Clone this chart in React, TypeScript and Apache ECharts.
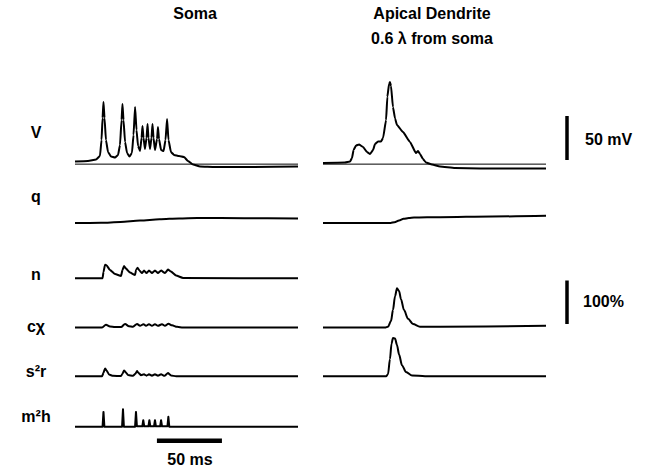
import React, { useEffect, useRef } from "react";
import * as echarts from "echarts";

// ---------- texts ----------
const TITLE_SOMA = "Soma";
const TITLE_DEND_1 = "Apical Dendrite";
const TITLE_DEND_2 = "0.6 λ from soma";
const ROW_LABELS = ["V", "q", "n", "cχ", "s²r", "m²h"];
const SCALE_LABEL_TIME = "50 ms";
const SCALE_LABEL_VOLT = "50 mV";
const SCALE_LABEL_PCT = "100%";

// ---------- data (time in ms, V in mV, gating variables in %) ----------
const TIME_MAX = 171.5;
const V_REST_LINE = -68;
const SCALE_TIME = [63, 113]; // 50 ms
const SCALE_VOLT = [-63.3, -13.3]; // 50 mV
const SCALE_PCT = [8, 108]; // 100 %

const SOMA_V: [number, number][] = [
  [0, -65], [10, -64.4], [16.2, -62.7], [19.2, -58.8], [20.4, -40.6], [21.2, -15.6], [21.9, 2.6],
  [22.7, -15.6], [23.8, -40.6], [25.4, -54.2], [27.7, -59.3], [30.8, -60.5], [33.1, -57.6],
  [34.6, -46.3], [35.8, -17.8], [36.5, 0.3], [37.3, -17.8], [38.5, -42.8], [40, -55.3],
  [41.9, -59.3], [43.8, -55.3], [45, -34.9], [46.2, -3.1], [47.3, -29.2], [48.5, -47.4],
  [50, -53.1], [51.2, -38.3], [51.9, -24.7], [52.7, -38.3], [53.8, -50.8], [55, -38.3],
  [55.8, -22.4], [56.5, -38.3], [57.7, -50.8], [58.8, -38.3], [59.6, -22.4], [60.4, -38.3],
  [61.5, -51.9], [63.1, -39.4], [63.8, -25.8], [64.6, -39.4], [66.2, -51.9], [68.1, -53.1],
  [69.6, -40.6], [70.8, -16.7], [71.9, -40.6], [73.8, -54.2], [76.2, -57.6], [80, -58.8],
  [83.8, -59.9], [86.9, -64.4], [90.8, -68.4], [96.2, -70.7], [107.7, -71.3], [134.6, -71.3],
  [171.5, -70.7],
];

const DEND_V: [number, number][] = [
  [0, -66.7], [16.9, -66.1], [20.8, -65], [22.3, -61], [23.5, -51.9], [25.4, -46.8], [27.7, -45.7],
  [30.8, -48.5], [33.8, -54.2], [36.2, -56.5], [38.5, -51.9], [40, -45.1], [42.3, -42.3],
  [44.6, -42.3], [46.2, -38.3], [48.5, -17.8], [49.5, 8.6], [50.8, 23.1], [51.5, 25.3],
  [52.3, 20.8], [53.8, -3.1], [55.4, -16], [56.9, -23.5], [61.5, -31.5], [66.9, -42.8],
  [71.5, -55.3], [73.1, -53.1], [74.6, -56.5], [76.9, -62.2], [79.2, -66.1], [83.8, -68.4],
  [90, -70.7], [101.5, -72.4], [120.8, -72.9], [171.5, -72.9],
];

const SOMA_Q: [number, number][] = [
  [0, 0], [20, 0.3], [35, 2.5], [50, 5.5], [65, 8.5], [80, 10.5], [94, 11.4], [130, 11.2], [171.5, 10.5],
];

const DEND_Q: [number, number][] = [
  [0, 0], [52, 0], [55, 2], [58.5, 6], [62, 9.5], [66, 11.5], [70, 12.5], [90, 13.5], [130, 15], [171.5, 16.5],
];

const SOMA_N: [number, number][] = [
  [0, 0], [21.2, 0], [21.9, 14.3], [23.1, 31.4], [24.2, 30.2], [26.9, 18.9], [30.8, 9.8], [35.4, 5.2],
  [36.5, 18.9], [37.7, 28], [39.2, 22.3], [42.3, 13.2], [46.2, 7.5], [46.9, 18.9], [48.1, 24.5],
  [49.6, 17.7], [51.5, 12], [53.1, 17.7], [55, 12], [56.9, 17.7], [59.2, 12], [61.5, 17.7],
  [63.8, 12], [66.2, 17.7], [69.2, 12], [71.5, 20], [73.8, 15.5], [77.7, 6.4], [83.1, 0.7], [171.5, 0],
];

const SOMA_CX: [number, number][] = [
  [0, 0], [20.8, 0], [23.8, 6.5], [26.9, 2.5], [30.8, 1], [35.4, 1], [38.5, 8], [41.5, 3], [44.6, 2],
  [47.7, 8], [50, 4], [52.7, 7.5], [54.6, 4], [56.9, 7.5], [59.2, 4], [61.5, 7.5], [63.8, 4],
  [66.9, 7.5], [69.2, 4], [71.9, 8.5], [74.6, 5], [78.5, 1.5], [83.1, 0], [171.5, 0],
];

const SOMA_S2R: [number, number][] = [
  [0, 0], [20.8, 0], [21.9, 8], [23.1, 18], [24.2, 14], [26.2, 4], [29.2, 1], [35.4, 0.5], [36.5, 6],
  [37.7, 13.6], [38.8, 10], [40.8, 3], [44.6, 1], [46.5, 6], [47.7, 12], [48.8, 8], [50.8, 2.5],
  [53.1, 4.5], [55, 1.5], [56.9, 4.5], [59.2, 1.5], [61.5, 4.5], [63.8, 1.5], [66.2, 4.5],
  [68.8, 1], [71.5, 7.5], [73.8, 2], [77.7, 0], [171.5, 0],
];

const SOMA_M2H: [number, number][] = [
  [0, 0], [21.2, 0], [21.9, 34], [22.6, 0], [36.2, 0], [36.9, 40], [37.6, 0], [46.2, 0], [46.9, 34],
  [47.6, 1], [51.8, 1], [52.5, 15], [53.2, 1], [56.5, 1], [57.2, 15], [57.9, 1], [60.8, 1],
  [61.5, 15], [62.2, 1], [65.5, 1], [66.2, 15], [66.9, 1], [71.1, 1], [71.8, 22.7], [72.5, 0],
  [171.5, 0],
];

const DEND_CX: [number, number][] = [
  [0, 0], [47.7, 0], [50, 2], [52.3, 15], [53.8, 40], [55.4, 72], [56.9, 90], [58.5, 84], [60, 65],
  [62.3, 40], [65.4, 20], [69.2, 8], [74.6, 2], [90, 1.5], [171.5, 4],
];

const DEND_S2R: [number, number][] = [
  [0, 0], [48.5, 0], [50, 5], [51.5, 40], [52.7, 75], [53.8, 88], [55.4, 87], [56.9, 72], [58.5, 50],
  [60.8, 25], [63.8, 10], [68.5, 2], [78.5, 0], [171.5, 0],
];

// ---------- layout ----------
const W = 656;
const H = 469;
const LEFT_X = 75;
const RIGHT_X = 323;
const PANEL_W = 223;
const BAR_X = 560;
const BAR_W = 14;
const PX_MV = 0.88;
const PX_PCT = 0.435;
const FONT = '"Liberation Sans", Arial, sans-serif';

type Row = { anchorVal: number; anchorY: number; min: number; max: number; px: number };
const ROW_V: Row = { anchorVal: -65, anchorY: 161.5, min: -85, max: 30, px: PX_MV };
const ROW_Q: Row = { anchorVal: 0, anchorY: 223, min: -10, max: 30, px: PX_PCT };
const ROW_N: Row = { anchorVal: 0, anchorY: 278.3, min: -10, max: 50, px: PX_PCT };
const ROW_CX: Row = { anchorVal: 0, anchorY: 327.5, min: -10, max: 115, px: PX_PCT };
const ROW_S2R: Row = { anchorVal: 0, anchorY: 376.3, min: -10, max: 110, px: PX_PCT };
const ROW_M2H: Row = { anchorVal: 0, anchorY: 426.7, min: -10, max: 60, px: PX_PCT };

function buildOption() {
  const grids: any[] = [];
  const xAxes: any[] = [];
  const yAxes: any[] = [];
  const series: any[] = [];

  const addGrid = (left: number, width: number, row: Row, xmin: number, xmax: number) => {
    const idx = grids.length;
    grids.push({
      left,
      width,
      top: row.anchorY - (row.max - row.anchorVal) * row.px,
      height: (row.max - row.min) * row.px,
      containLabel: false,
    });
    xAxes.push({ gridIndex: idx, type: "value", min: xmin, max: xmax, show: false });
    yAxes.push({ gridIndex: idx, type: "value", min: row.min, max: row.max, show: false });
    return idx;
  };

  const addLine = (idx: number, data: [number, number][], width: number, smooth: number | boolean) => {
    series.push({
      type: "line",
      xAxisIndex: idx,
      yAxisIndex: idx,
      data,
      showSymbol: false,
      symbol: "none",
      smooth,
      smoothMonotone: "x",
      clip: false,
      lineStyle: { color: "#000", width, cap: "butt", join: "round" },
      silent: true,
    });
  };

  const restLine: [number, number][] = [
    [0, V_REST_LINE],
    [TIME_MAX, V_REST_LINE],
  ];

  // Soma column
  let g = addGrid(LEFT_X, PANEL_W, ROW_V, 0, TIME_MAX);
  addLine(g, restLine, 1, false);
  addLine(g, SOMA_V, 2, 0.15);
  g = addGrid(LEFT_X, PANEL_W, ROW_Q, 0, TIME_MAX);
  addLine(g, SOMA_Q, 2, 0.3);
  g = addGrid(LEFT_X, PANEL_W, ROW_N, 0, TIME_MAX);
  addLine(g, SOMA_N, 2, 0.15);
  g = addGrid(LEFT_X, PANEL_W, ROW_CX, 0, TIME_MAX);
  addLine(g, SOMA_CX, 2, 0.3);
  g = addGrid(LEFT_X, PANEL_W, ROW_S2R, 0, TIME_MAX);
  addLine(g, SOMA_S2R, 2, 0.15);
  g = addGrid(LEFT_X, PANEL_W, ROW_M2H, 0, TIME_MAX);
  addLine(g, SOMA_M2H, 2, false);

  // Dendrite column
  g = addGrid(RIGHT_X, PANEL_W, ROW_V, 0, TIME_MAX);
  addLine(g, restLine, 1, false);
  addLine(g, DEND_V, 2, 0.15);
  g = addGrid(RIGHT_X, PANEL_W, ROW_Q, 0, TIME_MAX);
  addLine(g, DEND_Q, 2, 0.3);
  g = addGrid(RIGHT_X, PANEL_W, ROW_CX, 0, TIME_MAX);
  addLine(g, DEND_CX, 2, 0.3);
  g = addGrid(RIGHT_X, PANEL_W, ROW_S2R, 0, TIME_MAX);
  addLine(g, DEND_S2R, 2, 0.3);

  // Scale bars
  g = addGrid(BAR_X, BAR_W, ROW_V, -1, 1);
  addLine(g, [[0, SCALE_VOLT[0]], [0, SCALE_VOLT[1]]], 3.5, false);
  g = addGrid(BAR_X, BAR_W, ROW_CX, -1, 1);
  addLine(g, [[0, SCALE_PCT[0]], [0, SCALE_PCT[1]]], 3.5, false);
  g = addGrid(LEFT_X, PANEL_W, { anchorVal: 0, anchorY: 440.7, min: -1, max: 1, px: 5 }, 0, TIME_MAX);
  addLine(g, [[SCALE_TIME[0], 0], [SCALE_TIME[1], 0]], 4.5, false);

  const txt = (text: string, x: number, y: number, size: number, align: string = "center") => ({
    type: "text",
    x,
    y,
    silent: true,
    style: {
      text,
      fill: "#000",
      font: `bold ${size}px ${FONT}`,
      textAlign: align,
      textVerticalAlign: "middle",
      align,
      verticalAlign: "middle",
    },
  });

  const rowLabelY = [132, 196, 274, 326, 371, 416];
  const graphic: any[] = [
    txt(TITLE_SOMA, 195, 13, 16),
    txt(TITLE_DEND_1, 432, 13, 16),
    txt(TITLE_DEND_2, 432, 38, 16),
    ...ROW_LABELS.map((l, i) => txt(l, 36, rowLabelY[i], 16)),
    txt(SCALE_LABEL_VOLT, 585, 139, 16, "left"),
    txt(SCALE_LABEL_PCT, 583, 301, 16, "left"),
    txt(SCALE_LABEL_TIME, 190, 459, 16),
  ];

  return {
    animation: false,
    backgroundColor: "#fff",
    grid: grids,
    xAxis: xAxes,
    yAxis: yAxes,
    series,
    graphic,
  };
}

export default function App() {
  const ref = useRef<HTMLDivElement>(null);
  useEffect(() => {
    if (!ref.current) return;
    const chart = echarts.init(ref.current, null, { renderer: "svg" });
    chart.setOption(buildOption() as any);
    return () => chart.dispose();
  }, []);
  return (
    <div
      ref={ref}
      style={{ position: "absolute", left: 0, top: 0, width: W, height: H, background: "#fff" }}
    />
  );
}
